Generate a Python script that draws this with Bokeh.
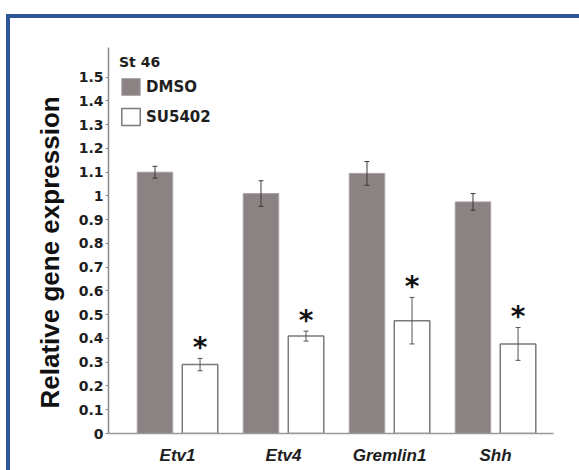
import numpy as np
from bokeh.plotting import figure
from bokeh.layouts import column
from bokeh.models import (ColumnDataSource, FixedTicker, Legend, LegendItem, Title, Range1d)
from bokeh.core.properties import value
from bokeh.embed import file_html
from bokeh.resources import INLINE

# ---- data ----
genes = ["Etv1", "Etv4", "Gremlin1", "Shh"]
dmso = [1.10, 1.01, 1.095, 0.975]
dmso_err = [0.025, 0.054, 0.05, 0.035]
su5402 = [0.29, 0.41, 0.475, 0.377]
su5402_err = [0.026, 0.021, 0.098, 0.069]
series_names = ["DMSO", "SU5402"]
legend_title = "St 46"
y_label = "Relative gene expression"
y_tick_values = [0, 0.1, 0.2, 0.3, 0.4, 0.5, 0.6, 0.7, 0.8, 0.9, 1.0, 1.1, 1.2, 1.3, 1.4, 1.5]
y_tick_labels = ["0", "0.1", "0.2", "0.3", "0.4", "0.5", "0.6", "0.7", "0.8", "0.9",
                 "1", "1.1", "1.2", "1.3", "1.4", "1.5"]
signif_mark = "*"

# ---- styling ----
DMSO_FILL = "#8b8383"
DMSO_EDGE = "#a8a2a2"
SU_EDGE = "#7a7a7a"
AXIS_COL = "#8c8c8c"
TEXT_COL = "#1e1e1e"
BLUE = "#2f5597"

idx = np.arange(len(genes))
off = 0.2125
bw = 0.335

src = ColumnDataSource(dict(
    x_d=idx - off, x_s=idx + off,
    dmso=dmso, su=su5402,
    d_up=np.array(dmso) + np.array(dmso_err), d_lo=np.array(dmso) - np.array(dmso_err),
    s_up=np.array(su5402) + np.array(su5402_err), s_lo=np.array(su5402) - np.array(su5402_err),
    star=[signif_mark] * len(genes),
))

p = figure(frame_width=445, frame_height=386, output_backend="svg", toolbar_location=None,
           x_range=Range1d(-0.651, 3.547), y_range=Range1d(0, 1.625),
           min_border_left=98, min_border_right=26, min_border_top=29, min_border_bottom=37)
p.background_fill_color = "white"
p.border_fill_color = "white"
p.outline_line_color = None
p.grid.visible = False

r1 = p.vbar(x="x_d", top="dmso", width=bw, source=src, fill_color=DMSO_FILL,
            line_color=DMSO_EDGE, line_width=1)
r2 = p.vbar(x="x_s", top="su", width=bw, source=src, fill_color="white",
            line_color=SU_EDGE, line_width=1.5)

# error bars (drawn after bars)
for base, up, lo, col in (("x_d", "d_up", "d_lo", "#3c3838"), ("x_s", "s_up", "s_lo", "#555555")):
    p.segment(x0=base, y0=lo, x1=base, y1=up, source=src, line_color=col, line_width=1)
    p.scatter(x=base, y=up, source=src, marker="dash", size=5, line_color=col, line_width=1)
    p.scatter(x=base, y=lo, source=src, marker="dash", size=5, line_color=col, line_width=1)

p.text(x="x_s", y="s_up", text="star", source=src, text_align="center",
       text_baseline="alphabetic", text_font=value("DejaVu Sans"), text_font_style="bold",
       text_font_size="28px", text_color="#111111", y_offset=-11)

# axes
p.yaxis.ticker = FixedTicker(ticks=y_tick_values)
p.yaxis.major_label_overrides = {v: l for v, l in zip(y_tick_values, y_tick_labels)}
p.yaxis.minor_tick_line_color = None
p.yaxis.major_tick_out = 3
p.yaxis.major_tick_in = 0
p.yaxis.major_tick_line_color = AXIS_COL
p.yaxis.axis_line_color = AXIS_COL
p.yaxis.axis_line_width = 1.5
p.yaxis.major_label_standoff = 2
p.yaxis.major_label_text_font = "DejaVu Sans"
p.yaxis.major_label_text_font_style = "bold"
p.yaxis.major_label_text_font_size = "14px"
p.yaxis.major_label_text_color = TEXT_COL

p.xaxis.ticker = FixedTicker(ticks=list(idx))
p.xaxis.major_label_overrides = {int(i): g for i, g in zip(idx, genes)}
p.xaxis.minor_tick_line_color = None
p.xaxis.major_tick_line_color = None
p.xaxis.major_tick_out = 0
p.xaxis.major_tick_in = 0
p.xaxis.axis_line_color = "#9a9a9a"
p.xaxis.axis_line_width = 1.5
p.xaxis.major_label_standoff = 12
p.xaxis.major_label_text_font = "Liberation Sans"
p.xaxis.major_label_text_font_style = "bold italic"
p.xaxis.major_label_text_font_size = "17px"
p.xaxis.major_label_text_color = TEXT_COL

# y axis title (starts a little above the x axis, as in the reference)
p.add_layout(Title(text=y_label, align="left", offset=25, standoff=22,
                   text_font="Liberation Sans", text_font_style="bold",
                   text_font_size="26px", text_color="#111111"), "left")

# legend
legend = Legend(title=legend_title,
                items=[LegendItem(label=series_names[0], renderers=[r1]),
                       LegendItem(label=series_names[1], renderers=[r2])],
                location=(11, 306), glyph_width=23, glyph_height=21, spacing=9,
                padding=0, margin=0, label_standoff=4, title_standoff=6,
                border_line_alpha=0, background_fill_alpha=0,
                title_text_font="DejaVu Sans", title_text_font_style="bold",
                title_text_font_size="14px", title_text_color=TEXT_COL,
                label_text_font="DejaVu Sans", label_text_font_style="bold",
                label_text_font_size="15px", label_text_color=TEXT_COL)
p.add_layout(legend)

# blue frame (top and left edges visible, as in the cropped reference)
layout = column(p, margin=(14, 0, 0, 6),
                styles={"border-top": f"4px solid {BLUE}", "border-left": f"4px solid {BLUE}"})

open("out.html", "w").write(file_html(layout, INLINE))
